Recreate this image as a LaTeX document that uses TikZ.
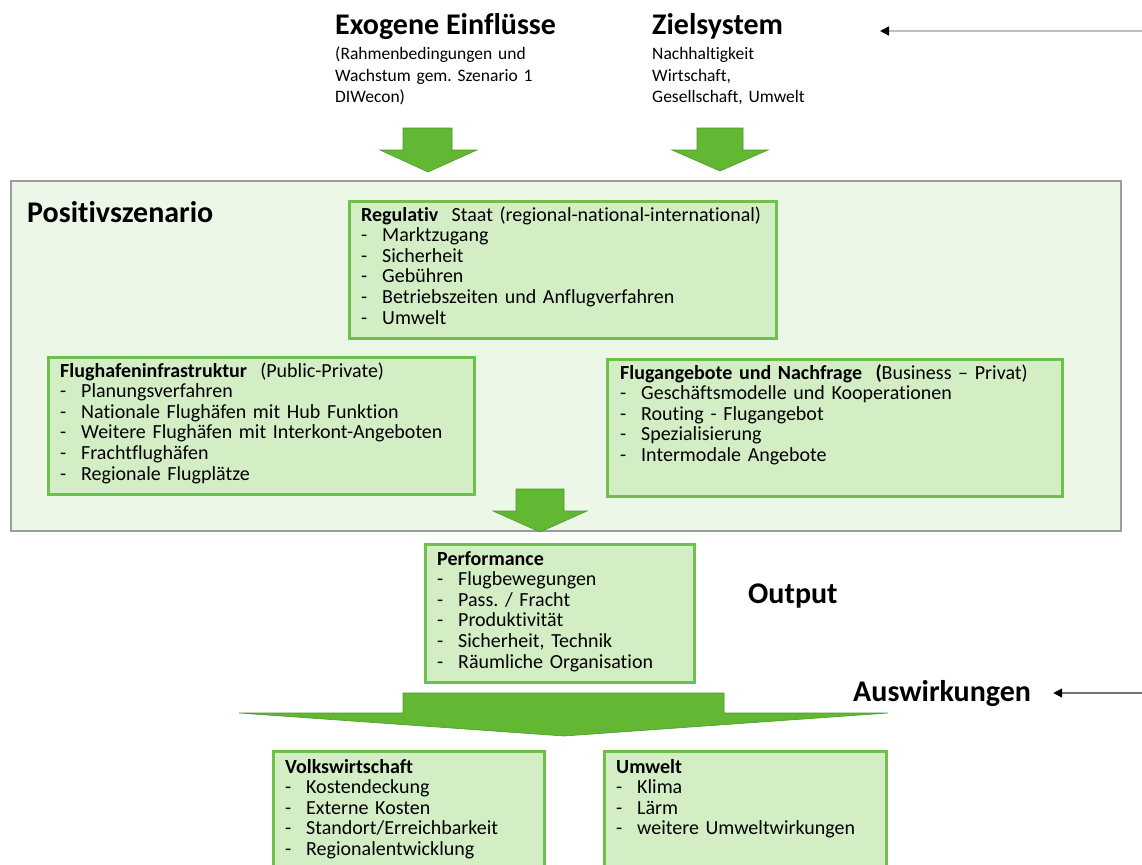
\documentclass[tikz,border=0pt]{standalone}
\usepackage{fontspec}
\setmainfont{Carlito}[Ligatures={TeX,NoCommon}]
\usetikzlibrary{arrows.meta}
\definecolor{arrowgreen}{HTML}{62B733}
\definecolor{arrowedge}{HTML}{4C9A2C}
\definecolor{boxfill}{HTML}{D3EEC5}
\definecolor{boxline}{HTML}{6EBF4B}
\definecolor{scenfill}{HTML}{EDF7E8}
\definecolor{scenline}{HTML}{9C9C9C}
\newcommand{\itm}[1]{\makebox[21pt][l]{-}#1}
\frenchspacing
\begin{document}
\begin{tikzpicture}[x=1pt,y=-1pt,
    gbox/.style={draw=boxline, fill=boxfill, line width=3pt, anchor=north west, inner sep=0pt},
    boxtext/.style={anchor=base west, inner sep=0pt, align=left, text width=#1pt,
      font=\fontsize{20}{20.6}\selectfont},
    head/.style={anchor=base west, inner sep=0pt, font=\fontsize{30}{36}\selectfont\bfseries},
    subtext/.style={anchor=base west, inner sep=0pt, align=left, text width=220pt,
      font=\fontsize{17.5}{21.5}\selectfont},
    blockarrow/.style={fill=arrowgreen, draw=arrowedge, line width=0.6pt},
    greyarrow/.style={line width=1.6pt, -{Triangle[length=9pt,width=9pt,black]}}]
  \clip (0,0) rectangle (1142,864);
  \fill[white] (0,0) rectangle (1142,864);

  % inputs
  \node[head] (exo) at (335,35) {Exogene Einflüsse};
  \node[subtext] (exosub) at (335,60) {(Rahmenbedingungen und\\Wachstum gem. Szenario 1\\DIWecon)};
  \node[head] (ziel) at (652,35) {Zielsystem};
  \node[subtext] (zielsub) at (652,60) {Nachhaltigkeit\\Wirtschaft,\\Gesellschaft, Umwelt};
  \coordinate (zin) at (1142,31);
  \coordinate (zend) at (880,31);
  \draw[greyarrow, draw=black!25] (zin) -- (zend);

  \fill[blockarrow] (403,128) -- (452,128) -- (452,150) -- (477,150) -- (428,172)
    -- (380,150) -- (403,150) -- cycle;
  \fill[blockarrow] (697,128) -- (743,128) -- (743,150) -- (768,150) -- (720,171)
    -- (672,150) -- (697,150) -- cycle;

  % scenario
  \node[draw=scenline, fill=scenfill, line width=1.5pt, anchor=north west, inner sep=0pt,
    minimum width=1110pt, minimum height=350pt] (scen) at (10,180) {};
  \node[head] (scentitle) at (27,222) {Positivszenario};

  \node[gbox, minimum width=427pt, minimum height=137pt] (reg) at (348,200) {};
  \node[boxtext=405] (regtxt) at ([shift={(13,21)}]reg.north west)
    {\textbf{Regulativ}\ \ Staat (regional-national-international)\\
     \itm{Marktzugang}\\
     \itm{Sicherheit}\\
     \itm{Gebühren}\\
     \itm{Betriebszeiten und Anflugverfahren}\\
     \itm{Umwelt}};

  \node[gbox, minimum width=426pt, minimum height=137pt] (infra) at (47,356) {};
  \node[boxtext=405] (infratxt) at ([shift={(13,21)}]infra.north west)
    {\textbf{Flughafeninfrastruktur}\ \ (Public-Private)\\
     \itm{Planungsverfahren}\\
     \itm{Nationale Flughäfen mit Hub Funktion}\\
     \itm{Weitere Flughäfen mit Interkont-Angeboten}\\
     \itm{Frachtflughäfen}\\
     \itm{Regionale Flugplätze}};

  \node[gbox, minimum width=455pt, minimum height=137pt] (angebot) at (606,358) {};
  \node[boxtext=435] (angebottxt) at ([shift={(14,21)}]angebot.north west)
    {\textbf{Flugangebote und Nachfrage\ \ (}Business – Privat)\\
     \itm{Geschäftsmodelle und Kooperationen}\\
     \itm{Routing - Flugangebot}\\
     \itm{Spezialisierung}\\
     \itm{Intermodale Angebote}};

  \fill[blockarrow] (516,489) -- (564,489) -- (564,511) -- (587,511) -- (540,532)
    -- (493,511) -- (516,511) -- cycle;

  % output
  \node[gbox, minimum width=269pt, minimum height=138pt] (perf) at (424,543) {};
  \node[boxtext=250] (perftxt) at ([shift={(13,22)}]perf.north west)
    {\textbf{Performance}\\
     \itm{Flugbewegungen}\\
     \itm{Pass. / Fracht}\\
     \itm{Produktivität}\\
     \itm{Sicherheit, Technik}\\
     \itm{Räumliche Organisation}};
  \node[head] (out) at (748,603) {Output};

  \fill[blockarrow] (403,693) -- (724,693) -- (724,713) -- (888,713) -- (564,736)
    -- (239,713) -- (403,713) -- cycle;

  % impacts
  \node[head] (aus) at (853,701) {Auswirkungen};
  \coordinate (ausin) at (1142,693);
  \draw[greyarrow, draw=black!55, shorten >=22pt] (ausin) -- (aus.east);

  \node[gbox, minimum width=271pt, minimum height=125pt] (volk) at (272,750) {};
  \node[boxtext=250] (volktxt) at ([shift={(13,23)}]volk.north west)
    {\textbf{Volkswirtschaft}\\
     \itm{Kostendeckung}\\
     \itm{Externe Kosten}\\
     \itm{Standort/Erreichbarkeit}\\
     \itm{Regionalentwicklung}};

  \node[gbox, minimum width=282pt, minimum height=125pt] (umw) at (603,750) {};
  \node[boxtext=260] (umwtxt) at ([shift={(13,23)}]umw.north west)
    {\textbf{Umwelt}\\
     \itm{Klima}\\
     \itm{Lärm}\\
     \itm{weitere Umweltwirkungen}};
\end{tikzpicture}
\end{document}
